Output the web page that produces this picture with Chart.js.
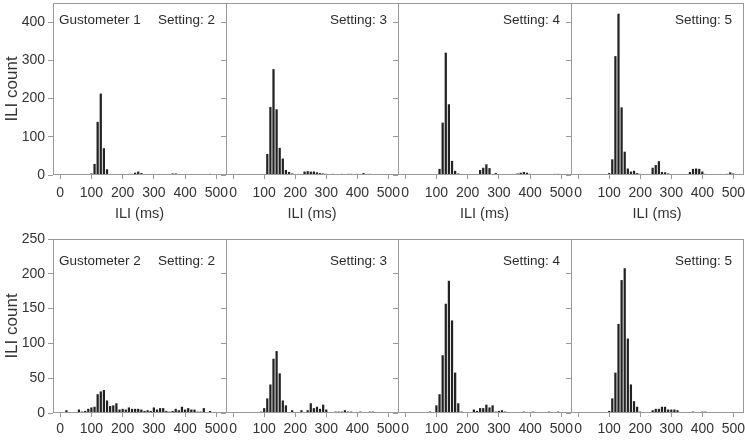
<!DOCTYPE html>
<html>
<head>
<meta charset="utf-8">
<script src="https://cdn.jsdelivr.net/npm/chart.js@4.4.1/dist/chart.umd.min.js"></script>
<style>
  html, body { margin: 0; padding: 0; background: #fff; overflow: hidden; }
  body { width: 745px; height: 440px; position: relative; }
  canvas { position: absolute; }
</style>
</head>
<body>
<script>
// ILI histogram bins (ms), 10 ms wide
const BINS = [0, 10, 20, 30, 40, 50, 60, 70, 80, 90,
  100, 110, 120, 130, 140, 150, 160, 170, 180, 190,
  200, 210, 220, 230, 240, 250, 260, 270, 280, 290,
  300, 310, 320, 330, 340, 350, 360, 370, 380, 390,
  400, 410, 420, 430, 440, 450, 460, 470, 480, 490, 500];

// Gustometer 1, counts per bin
const G1_S2 = [0, 0, 0, 0, 1, 0, 0, 0, 0, 1,
  4, 29, 139, 213, 70, 15, 2, 1, 0, 0,
  1, 0, 3, 3, 6, 9, 5, 1, 0, 0,
  1, 1, 1, 0, 1, 0, 4, 4, 1, 0,
  0, 0, 1, 0, 0, 0, 0, 0, 3, 1, 0];
const G1_S3 = [0, 1, 0, 0, 2, 0, 0, 0, 0, 1,
  2, 55, 178, 277, 172, 71, 43, 13, 8, 4,
  1, 1, 2, 9, 10, 9, 9, 7, 5, 4,
  3, 2, 3, 1, 1, 3, 2, 3, 3, 2,
  3, 1, 5, 2, 3, 2, 1, 1, 0, 0, 0];
const G1_S4 = [0, 0, 0, 0, 0, 0, 0, 0, 0, 0,
  0, 16, 137, 320, 185, 37, 11, 4, 1, 2,
  0, 0, 0, 1, 13, 19, 28, 18, 0, 5,
  1, 0, 0, 0, 1, 2, 4, 6, 8, 6,
  3, 1, 2, 0, 0, 0, 0, 0, 3, 3, 0];
const G1_S5 = [0, 0, 0, 0, 0, 0, 0, 0, 0, 0,
  5, 41, 311, 422, 177, 61, 17, 9, 11, 5,
  3, 0, 1, 2, 19, 26, 36, 8, 7, 4,
  1, 1, 1, 0, 0, 2, 8, 16, 17, 16,
  9, 3, 2, 1, 0, 1, 2, 1, 3, 7, 4];

// Gustometer 2, counts per bin
const G2_S2 = [0, 0, 4, 0, 0, 1, 5, 2, 3, 6,
  8, 9, 27, 31, 33, 18, 10, 11, 14, 5,
  6, 5, 8, 6, 6, 6, 5, 3, 4, 3,
  8, 5, 7, 7, 3, 2, 3, 6, 4, 9,
  5, 7, 5, 5, 2, 2, 7, 1, 3, 1, 0];
const G2_S3 = [0, 0, 0, 0, 0, 0, 0, 1, 0, 2,
  7, 21, 41, 78, 89, 57, 18, 11, 0, 4,
  1, 1, 4, 1, 4, 14, 7, 9, 6, 12,
  5, 1, 0, 2, 2, 2, 4, 2, 2, 1,
  1, 2, 0, 0, 2, 2, 1, 1, 0, 0, 0];
const G2_S4 = [0, 0, 0, 0, 0, 0, 0, 0, 2, 1,
  11, 27, 83, 157, 190, 133, 58, 14, 2, 0,
  0, 0, 5, 3, 7, 7, 12, 8, 11, 2,
  3, 4, 2, 1, 0, 0, 1, 0, 2, 0,
  1, 2, 0, 0, 1, 0, 2, 0, 0, 2, 1];
const G2_S5 = [0, 0, 0, 0, 0, 0, 0, 0, 0, 0,
  3, 21, 58, 128, 191, 208, 107, 41, 17, 9,
  2, 0, 1, 1, 4, 6, 6, 9, 9, 5,
  5, 5, 4, 0, 1, 1, 1, 2, 1, 0,
  2, 2, 0, 0, 0, 1, 1, 1, 1, 1, 0];

const X_TICKS = [0, 100, 200, 300, 400, 500];
const Y_TICKS_TOP = [0, 100, 200, 300, 400];
const Y_TICKS_BOTTOM = [0, 50, 100, 150, 200, 250];
const GUSTOMETERS = ['Gustometer 1', 'Gustometer 2'];
const SETTINGS = ['Setting: 2', 'Setting: 3', 'Setting: 4', 'Setting: 5'];
const SERIES = [[G1_S2, G1_S3, G1_S4, G1_S5], [G2_S2, G2_S3, G2_S4, G2_S5]];

// layout
const EDGES = [53, 226, 398, 571, 743];
const AXIS_W = 53, PAD_R = 12, PAD_T = 12;
const ROWS = [
  { areaTop: 3, areaBottom: 175, axisH: 50, yMax: 450, yTicks: Y_TICKS_TOP, tickPad: 6, title: 'ILI (ms)', textY: 20.5 },
  { areaTop: 239, areaBottom: 413, axisH: 27, yMax: 250, yTicks: Y_TICKS_BOTTOM, tickPad: 4, title: '', textY: 26 }
];
const FONT = '"Liberation Sans", Arial, Helvetica, sans-serif';
const INK = '#222';
const FRAME = '#999';

function panelDeco(leftText, rightText, textY) {
  return {
    id: 'panelDeco',
    afterDraw(chart) {
      const { ctx, chartArea: a } = chart;
      ctx.save();
      ctx.strokeStyle = FRAME;
      ctx.lineWidth = 1;
      ctx.strokeRect(Math.round(a.left) + 0.5, Math.round(a.top) + 0.5,
        Math.round(a.right - a.left), Math.round(a.bottom - a.top) - 1);
      ctx.font = '13.5px ' + FONT;
      ctx.fillStyle = '#2a2a2a';
      ctx.textBaseline = 'alphabetic';
      if (leftText) {
        ctx.textAlign = 'left';
        ctx.fillText(leftText, a.left + 6, a.top + textY);
      }
      ctx.textAlign = 'right';
      ctx.fillText(rightText, a.right - 11, a.top + textY);
      ctx.restore();
    }
  };
}

function buildPanel(r, c) {
  const row = ROWS[r];
  const counts = SERIES[r][c];
  const canvas = document.createElement('canvas');
  const w = EDGES[c + 1] - EDGES[c] + AXIS_W + PAD_R;
  const top = row.areaTop - PAD_T;
  const h = row.areaBottom + row.axisH - top;
  canvas.width = w;
  canvas.height = h;
  canvas.style.left = (EDGES[c] - AXIS_W) + 'px';
  canvas.style.top = top + 'px';
  canvas.style.width = w + 'px';
  canvas.style.height = h + 'px';
  document.body.appendChild(canvas);

  new Chart(canvas.getContext('2d'), {
    type: 'bar',
    data: {
      datasets: [{
        data: BINS.map((b, i) => ({ x: b, y: counts[i] })),
        backgroundColor: INK,
        borderWidth: 0,
        barPercentage: 0.72,
        categoryPercentage: 1
      }]
    },
    options: {
      responsive: false,
      animation: false,
      devicePixelRatio: 1,
      layout: { padding: { top: PAD_T, right: PAD_R, left: 0, bottom: 0 } },
      plugins: { legend: { display: false }, tooltip: { enabled: false } },
      scales: {
        x: {
          type: 'linear',
          offset: false,
          min: -23,
          max: 531,
          afterBuildTicks: s => { s.ticks = X_TICKS.map(v => ({ value: v })); },
          afterFit: s => { s.height = row.axisH; },
          grid: { offset: false, drawOnChartArea: false, drawTicks: true, tickLength: 4, color: FRAME },
          border: { display: false },
          ticks: { autoSkip: false, maxRotation: 0, padding: row.tickPad, color: '#333',
                   font: { family: FONT, size: 14 } },
          title: { display: !!row.title, text: row.title, color: '#333',
                   font: { family: FONT, size: 14.5 }, padding: { top: 0, bottom: 2 } }
        },
        y: {
          min: 0,
          max: row.yMax,
          afterBuildTicks: s => { s.ticks = row.yTicks.map(v => ({ value: v })); },
          afterFit: s => { s.width = AXIS_W; },
          grid: { drawOnChartArea: false, drawTicks: true, tickLength: 5, color: FRAME },
          border: { display: false },
          ticks: { padding: 3, color: '#333', font: { family: FONT, size: 14 },
                   callback: v => (c === 0 ? v : '') },
          title: { display: c === 0, text: 'ILI count', color: '#333',
                   font: { family: FONT, size: 17 }, padding: { top: 2, bottom: 0 } }
        }
      }
    },
    plugins: [panelDeco(c === 0 ? GUSTOMETERS[r] : '', SETTINGS[c], row.textY)]
  });
}

for (let r = 0; r < 2; r++) {
  for (let c = 0; c < 4; c++) buildPanel(r, c);
}
</script>
</body>
</html>
